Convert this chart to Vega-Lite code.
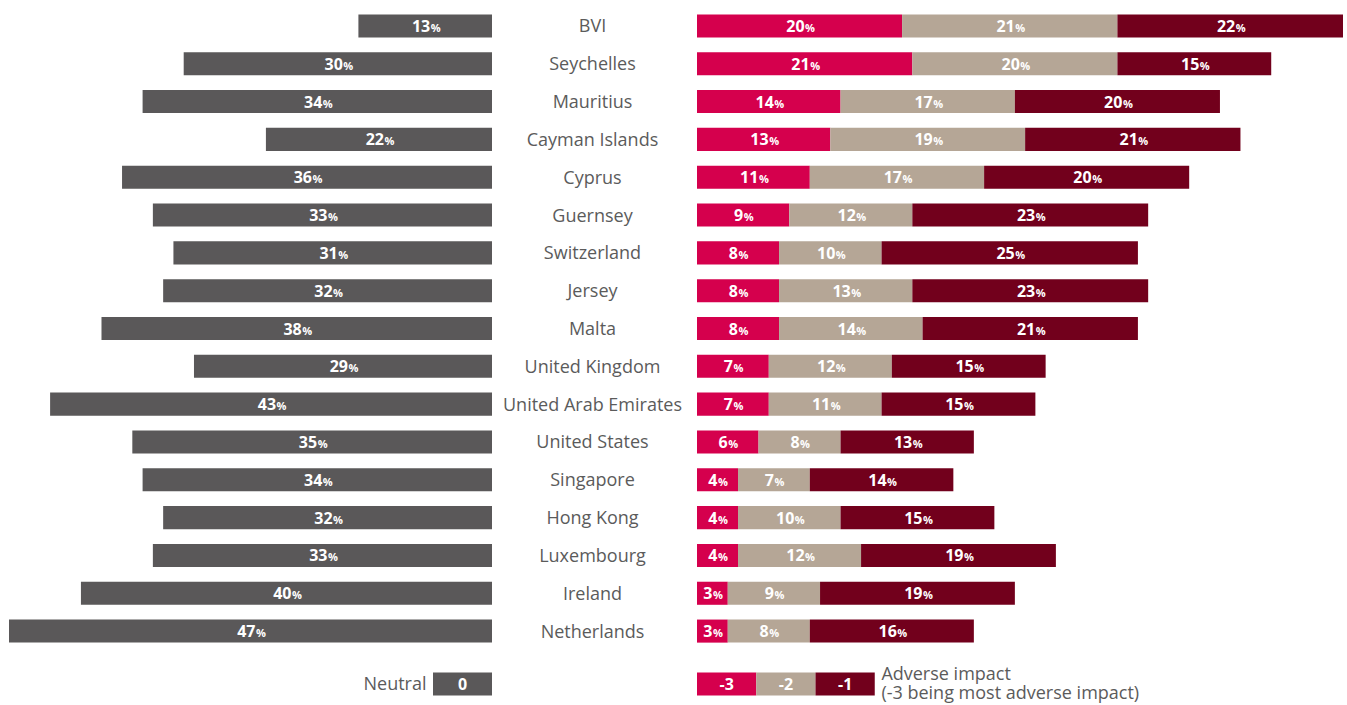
{
  "$schema": "https://vega.github.io/schema/vega-lite/v6.json",
  "padding": {"left": 9, "top": 7, "right": 0, "bottom": 0},
  "background": "white",
  "config": {"view": {"stroke": null}, "font": "Open Sans", "concat": {"spacing": 0}},
  "datasets": {
    "neutral": [
      {"country": "BVI", "value": 13},
      {"country": "Seychelles", "value": 30},
      {"country": "Mauritius", "value": 34},
      {"country": "Cayman Islands", "value": 22},
      {"country": "Cyprus", "value": 36},
      {"country": "Guernsey", "value": 33},
      {"country": "Switzerland", "value": 31},
      {"country": "Jersey", "value": 32},
      {"country": "Malta", "value": 38},
      {"country": "United Kingdom", "value": 29},
      {"country": "United Arab Emirates", "value": 43},
      {"country": "United States", "value": 35},
      {"country": "Singapore", "value": 34},
      {"country": "Hong Kong", "value": 32},
      {"country": "Luxembourg", "value": 33},
      {"country": "Ireland", "value": 40},
      {"country": "Netherlands", "value": 47}
    ],
    "adverse": [
      {"country": "BVI", "impact": -3, "value": 20}, {"country": "BVI", "impact": -2, "value": 21}, {"country": "BVI", "impact": -1, "value": 22},
      {"country": "Seychelles", "impact": -3, "value": 21}, {"country": "Seychelles", "impact": -2, "value": 20}, {"country": "Seychelles", "impact": -1, "value": 15},
      {"country": "Mauritius", "impact": -3, "value": 14}, {"country": "Mauritius", "impact": -2, "value": 17}, {"country": "Mauritius", "impact": -1, "value": 20},
      {"country": "Cayman Islands", "impact": -3, "value": 13}, {"country": "Cayman Islands", "impact": -2, "value": 19}, {"country": "Cayman Islands", "impact": -1, "value": 21},
      {"country": "Cyprus", "impact": -3, "value": 11}, {"country": "Cyprus", "impact": -2, "value": 17}, {"country": "Cyprus", "impact": -1, "value": 20},
      {"country": "Guernsey", "impact": -3, "value": 9}, {"country": "Guernsey", "impact": -2, "value": 12}, {"country": "Guernsey", "impact": -1, "value": 23},
      {"country": "Switzerland", "impact": -3, "value": 8}, {"country": "Switzerland", "impact": -2, "value": 10}, {"country": "Switzerland", "impact": -1, "value": 25},
      {"country": "Jersey", "impact": -3, "value": 8}, {"country": "Jersey", "impact": -2, "value": 13}, {"country": "Jersey", "impact": -1, "value": 23},
      {"country": "Malta", "impact": -3, "value": 8}, {"country": "Malta", "impact": -2, "value": 14}, {"country": "Malta", "impact": -1, "value": 21},
      {"country": "United Kingdom", "impact": -3, "value": 7}, {"country": "United Kingdom", "impact": -2, "value": 12}, {"country": "United Kingdom", "impact": -1, "value": 15},
      {"country": "United Arab Emirates", "impact": -3, "value": 7}, {"country": "United Arab Emirates", "impact": -2, "value": 11}, {"country": "United Arab Emirates", "impact": -1, "value": 15},
      {"country": "United States", "impact": -3, "value": 6}, {"country": "United States", "impact": -2, "value": 8}, {"country": "United States", "impact": -1, "value": 13},
      {"country": "Singapore", "impact": -3, "value": 4}, {"country": "Singapore", "impact": -2, "value": 7}, {"country": "Singapore", "impact": -1, "value": 14},
      {"country": "Hong Kong", "impact": -3, "value": 4}, {"country": "Hong Kong", "impact": -2, "value": 10}, {"country": "Hong Kong", "impact": -1, "value": 15},
      {"country": "Luxembourg", "impact": -3, "value": 4}, {"country": "Luxembourg", "impact": -2, "value": 12}, {"country": "Luxembourg", "impact": -1, "value": 19},
      {"country": "Ireland", "impact": -3, "value": 3}, {"country": "Ireland", "impact": -2, "value": 9}, {"country": "Ireland", "impact": -1, "value": 19},
      {"country": "Netherlands", "impact": -3, "value": 3}, {"country": "Netherlands", "impact": -2, "value": 8}, {"country": "Netherlands", "impact": -1, "value": 16}
    ]
  },
  "spacing": 15,
  "vconcat": [
    {
      "spacing": 0,
      "hconcat": [
        {
          "width": 483, "height": 643,
          "data": {"name": "neutral"},
          "transform": [{"calculate": "datum.value/2", "as": "mid"}],
          "encoding": {"y": {"field": "country", "type": "nominal", "axis": null, "scale": {"domain": ["BVI","Seychelles","Mauritius","Cayman Islands","Cyprus","Guernsey","Switzerland","Jersey","Malta","United Kingdom","United Arab Emirates","United States","Singapore","Hong Kong","Luxembourg","Ireland","Netherlands"], "paddingInner": 0.39, "paddingOuter": 0.195}}},
          "layer": [
            {"mark": {"type": "bar", "color": "#5a5859"},
             "encoding": {"x": {"field": "value", "type": "quantitative", "axis": null, "scale": {"domain": [0, 47], "nice": false, "reverse": true}}}},
            {"mark": {"type": "text", "align": "right", "baseline": "alphabetic", "dx": 5, "dy": 6, "fontSize": 16, "fontWeight": "bold", "color": "white"},
             "encoding": {"x": {"field": "mid", "type": "quantitative"}, "text": {"field": "value", "type": "nominal"}}},
            {"mark": {"type": "text", "align": "left", "baseline": "alphabetic", "dx": 5.5, "dy": 6, "fontSize": 11, "fontWeight": "bold", "color": "white", "text": "%"},
             "encoding": {"x": {"field": "mid", "type": "quantitative"}}}
          ]
        },
        {
          "width": 205, "height": 643,
          "data": {"name": "neutral"},
          "mark": {"type": "text", "fontSize": 18, "color": "#5b5b5b", "dx": -2, "dy": 1.5},
          "encoding": {
            "y": {"field": "country", "type": "nominal", "axis": null, "scale": {"domain": ["BVI","Seychelles","Mauritius","Cayman Islands","Cyprus","Guernsey","Switzerland","Jersey","Malta","United Kingdom","United Arab Emirates","United States","Singapore","Hong Kong","Luxembourg","Ireland","Netherlands"], "paddingInner": 0.39, "paddingOuter": 0.195}},
            "text": {"field": "country", "type": "nominal"}
          }
        },
        {
          "width": 646, "height": 643,
          "data": {"name": "adverse"},
          "transform": [
            {"stack": "value", "groupby": ["country"], "sort": [{"field": "impact", "order": "ascending"}], "as": ["x0", "x1"]},
            {"calculate": "(datum.x0+datum.x1)/2", "as": "mid"}
          ],
          "encoding": {"y": {"field": "country", "type": "nominal", "axis": null, "scale": {"domain": ["BVI","Seychelles","Mauritius","Cayman Islands","Cyprus","Guernsey","Switzerland","Jersey","Malta","United Kingdom","United Arab Emirates","United States","Singapore","Hong Kong","Luxembourg","Ireland","Netherlands"], "paddingInner": 0.39, "paddingOuter": 0.195}}},
          "layer": [
            {"mark": {"type": "bar"},
             "encoding": {
               "x": {"field": "x0", "type": "quantitative", "axis": null, "scale": {"domain": [0, 63], "nice": false, "zero": false}},
               "x2": {"field": "x1"},
               "color": {"field": "impact", "type": "ordinal", "legend": null, "scale": {"domain": [-3, -2, -1], "range": ["#d5004d", "#b5a696", "#72001c"]}}
             }},
            {"transform": [{"filter": "datum.value >= 10"}],
             "mark": {"type": "text", "align": "right", "baseline": "alphabetic", "dx": 5, "dy": 6, "fontSize": 16, "fontWeight": "bold", "color": "white"},
             "encoding": {"x": {"field": "mid", "type": "quantitative"}, "text": {"field": "value", "type": "nominal"}}},
            {"transform": [{"filter": "datum.value >= 10"}],
             "mark": {"type": "text", "align": "left", "baseline": "alphabetic", "dx": 5.5, "dy": 6, "fontSize": 11, "fontWeight": "bold", "color": "white", "text": "%"},
             "encoding": {"x": {"field": "mid", "type": "quantitative"}}},
            {"transform": [{"filter": "datum.value < 10"}],
             "mark": {"type": "text", "align": "right", "baseline": "alphabetic", "dx": 0, "dy": 6, "fontSize": 16, "fontWeight": "bold", "color": "white"},
             "encoding": {"x": {"field": "mid", "type": "quantitative"}, "text": {"field": "value", "type": "nominal"}}},
            {"transform": [{"filter": "datum.value < 10"}],
             "mark": {"type": "text", "align": "left", "baseline": "alphabetic", "dx": 0.5, "dy": 6, "fontSize": 11, "fontWeight": "bold", "color": "white", "text": "%"},
             "encoding": {"x": {"field": "mid", "type": "quantitative"}}}
          ]
        }
      ]
    },
    {
      "spacing": 205,
      "hconcat": [
        {
          "width": 483, "height": 38,
          "data": {"values": [{"row": "legend", "key": "0", "label": "Neutral"}]},
          "encoding": {
            "y": {"field": "row", "type": "nominal", "axis": null, "scale": {"paddingInner": 0.39, "paddingOuter": 0.195}},
            "x": {"field": "key", "type": "nominal", "axis": null, "scale": {"range": [424, 483], "paddingInner": 0, "paddingOuter": 0}}
          },
          "layer": [
            {"mark": {"type": "bar", "color": "#5a5859"}},
            {"mark": {"type": "text", "baseline": "alphabetic", "dy": 6, "fontSize": 16, "fontWeight": "bold", "color": "white"},
             "encoding": {"text": {"field": "key", "type": "nominal"}}},
            {"mark": {"type": "text", "align": "right", "dx": -36, "dy": 1, "fontSize": 18, "color": "#5b5b5b"},
             "encoding": {"text": {"field": "label", "type": "nominal"}}}
          ]
        },
        {
          "width": 646, "height": 38,
          "encoding": {
            "y": {"field": "row", "type": "nominal", "axis": null, "scale": {"paddingInner": 0.39, "paddingOuter": 0.195}},
            "x": {"field": "key", "type": "nominal", "axis": null, "scale": {"domain": ["-3", "-2", "-1", "note"], "range": [0, 237], "paddingInner": 0, "paddingOuter": 0}}
          },
          "layer": [
            {"data": {"values": [{"row": "legend", "key": "-3", "impact": -3}, {"row": "legend", "key": "-2", "impact": -2}, {"row": "legend", "key": "-1", "impact": -1}]},
             "layer": [
               {"mark": {"type": "bar"},
                "encoding": {"color": {"field": "impact", "type": "ordinal", "legend": null, "scale": {"domain": [-3, -2, -1], "range": ["#d5004d", "#b5a696", "#72001c"]}}}},
               {"mark": {"type": "text", "baseline": "alphabetic", "dy": 6, "fontSize": 16, "fontWeight": "bold", "color": "white"},
                "encoding": {"text": {"field": "key", "type": "nominal"}}}
             ]},
            {"data": {"values": [{"row": "legend", "key": "note", "label": "Adverse impact\n(-3 being most adverse impact)"}]},
             "mark": {"type": "text", "align": "left", "baseline": "middle", "dx": -23, "dy": -9.5, "fontSize": 18, "lineHeight": 19, "lineBreak": "\n", "color": "#5b5b5b"},
             "encoding": {"text": {"field": "label", "type": "nominal"}}}
          ]
        }
      ]
    }
  ]
}
